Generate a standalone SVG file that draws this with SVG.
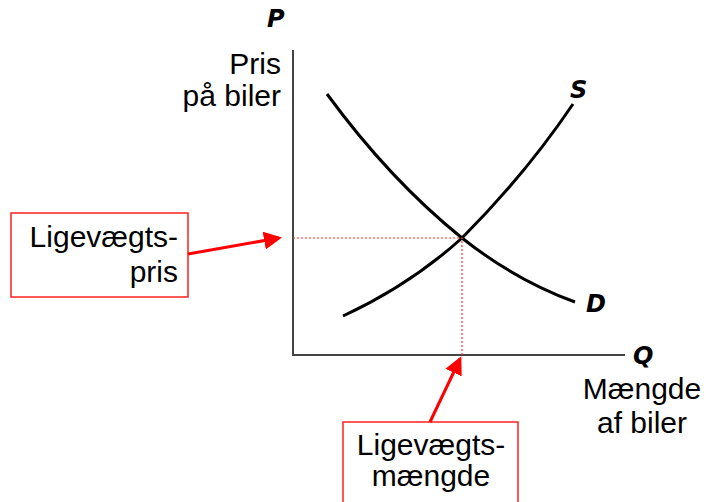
<svg xmlns="http://www.w3.org/2000/svg" width="706" height="502" viewBox="0 0 706 502">
<style>
.t{font-family:"Liberation Sans",Arial,sans-serif;font-size:30px;fill:#000}
.v{font-family:"DejaVu Sans",Verdana,sans-serif;font-weight:bold;font-style:italic;font-size:24px;fill:#000}
.box{fill:#fff;stroke:#ff2020;stroke-width:1.5}
.ax{stroke:#444;stroke-width:2;fill:none}
.cv{stroke:#000;stroke-width:3;fill:none}
.dot{stroke:#ff3030;stroke-width:1.2;stroke-dasharray:2 2;fill:none}
.arr{stroke:#ff0000;stroke-width:3;fill:none}
</style>
<defs>
<marker id="ah" markerWidth="6" markerHeight="6" refX="5" refY="3" orient="auto" markerUnits="strokeWidth">
<path d="M0,0 L6,3 L0,6 z" fill="#ff0000"/>
</marker>
</defs>
<g id="axes">
<path class="ax" d="M293,50 L293,355 L625,355"/>
<text class="v" x="267" y="27">P</text>
<text class="t" x="281" y="74" text-anchor="end">Pris</text>
<text class="t" x="281" y="106" text-anchor="end">på biler</text>
<text class="v" x="633" y="364">Q</text>
<text class="t" x="642" y="399" text-anchor="middle">Mængde</text>
<text class="t" x="642" y="433" text-anchor="middle">af biler</text>
</g>
<g id="supply">
<path class="cv" d="M343,316 Q410,285 462,238 Q525,175 573,104"/>
<text class="v" x="570" y="98">S</text>
</g>
<g id="demand">
<path class="cv" d="M327,94 Q390,180 462,238 Q515,280 575,302"/>
<text class="v" x="586" y="312">D</text>
</g>
<g id="guides">
<path class="dot" d="M293,238 L462,238 L462,355"/>
</g>
<g id="box-price">
<rect class="box" x="11" y="213" width="177" height="84"/>
<text class="t" x="178" y="247" text-anchor="end">Ligevægts-</text>
<text class="t" x="178" y="282" text-anchor="end">pris</text>
</g>
<g id="box-qty">
<rect class="box" x="343" y="422" width="175" height="90"/>
<text class="t" x="431" y="455" text-anchor="middle">Ligevægts-</text>
<text class="t" x="431" y="486" text-anchor="middle">mængde</text>
</g>
<g id="connectors">
<path class="arr" d="M188,254 L279,238" marker-end="url(#ah)"/>
<path class="arr" d="M430,422 L460,359" marker-end="url(#ah)"/>
</g>
</svg>
